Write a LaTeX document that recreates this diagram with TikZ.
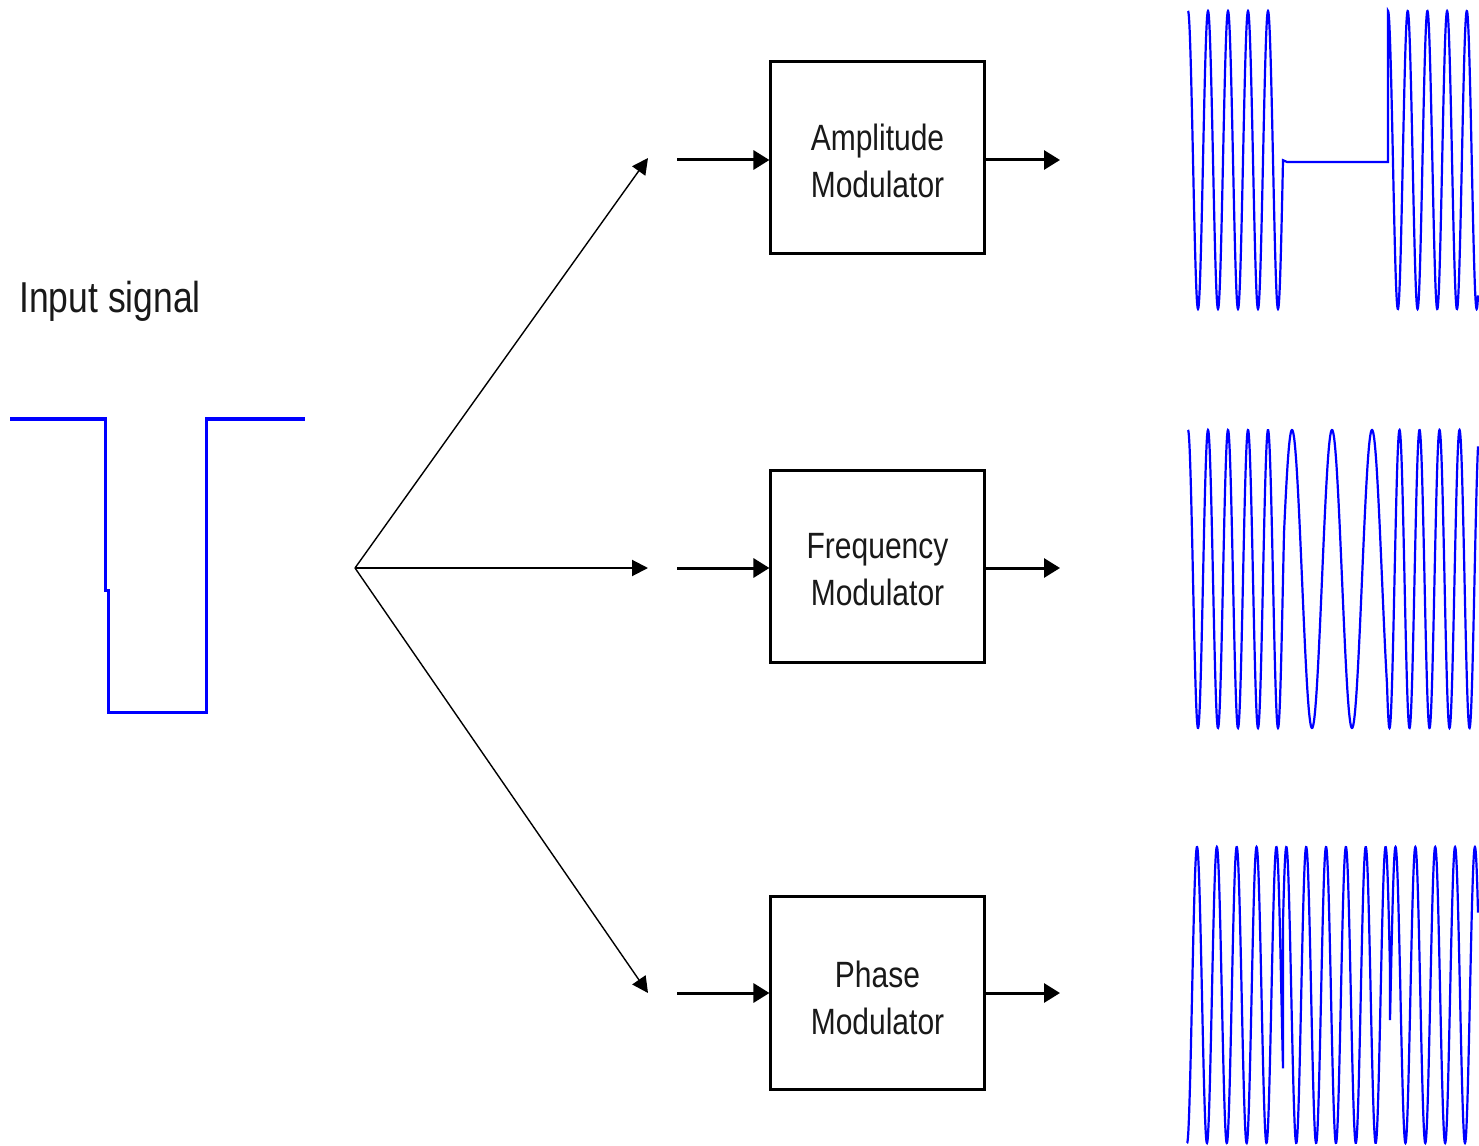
\documentclass[tikz,border=0pt]{standalone}
\usepackage{fontspec}
\setmainfont{Liberation Sans}
\newfontfamily\lblfont[FakeStretch=0.82]{Liberation Sans}
\usetikzlibrary{arrows.meta}
\tikzset{
  wave/.style={blue, line width=0.022cm, line join=miter},
  sig/.style={blue, line width=0.03cm},
  modbox/.style={draw, line width=0.03cm, minimum width=2.13cm, minimum height=1.92cm,
    inner sep=0pt},
  boxtext/.style={align=center, text=black!90, inner sep=0pt,
    font=\lblfont\fontsize{10.4}{13.4}\selectfont},
  feed/.style={line width=0.03cm, -{Triangle[length=0.16cm,width=0.19cm]}},
  fan/.style={line width=0.014cm, -{Triangle[length=0.16cm,width=0.16cm]}},
}
\begin{document}
\begin{tikzpicture}[x=0.01cm, y=-0.01cm]
  \useasboundingbox[fill=white] (0,0) rectangle (1479,1146);

  % title of the input waveform
  \node[text=black!90, font=\lblfont\fontsize{12.3}{14}\selectfont] (title) at (110,301) {Input signal};

  % input pulse
  \draw[sig] (10,419) -- (105,419) -- (105,590) -- (108,590) -- (108,712)
    -- (206,712) -- (206,419) -- (305,419);

  % splitting point and the three fan arrows
  \coordinate (split) at (355,568);
  \coordinate (tipA) at (648,158);
  \coordinate (tipF) at (648,568);
  \coordinate (tipP) at (648,993);
  \draw[fan] (split) -- (tipA);
  \draw[fan, line width=0.02cm] (split) -- (tipF);
  \draw[fan] (split) -- (tipP);

  % modulator blocks and their captions
  \node[modbox] (AM) at (877.5,157.5) {};
  \node[modbox] (FM) at (877.5,566.5) {};
  \node[modbox] (PM) at (877.5,993) {};
  \node[boxtext] (AMt) at ([yshift=-0.035cm]AM.center) {Amplitude\\Modulator};
  \node[boxtext] (FMt) at ([yshift=-0.035cm]FM.center) {Frequency\\Modulator};
  \node[boxtext] (PMt) at ([yshift=-0.045cm]PM.center) {Phase\\Modulator};

  % feeds into and out of the blocks
  \coordinate (aIn) at (677,160);  \coordinate (aOut) at (1060,160);
  \coordinate (fIn) at (677,568);  \coordinate (fOut) at (1060,568);
  \coordinate (pIn) at (677,993);  \coordinate (pOut) at (1060,993);
  \draw[feed] (aIn) -- (aIn -| AM.west);
  \draw[feed] (AM.east |- aOut) -- (aOut);
  \draw[feed] (fIn) -- (fIn -| FM.west);
  \draw[feed] (FM.east |- fOut) -- (fOut);
  \draw[feed] (pIn) -- (pIn -| PM.west);
  \draw[feed] (PM.east |- pOut) -- (pOut);

  % amplitude-modulated carrier (period 20, silent while the input is low)
  \draw[wave] plot[domain=1188:1283, samples=400] (\x,{160-149*cos(18*(\x-1188))})
    -- (1287,162) -- (1388,162)
    -- plot[domain=1388:1478, samples=400] (\x,{160-149*cos(18.274*(\x-1388))});

  % frequency-modulated carrier (period 20, then 40, then 20)
  \draw[wave] plot[domain=1188:1284, samples=400] (\x,{579-149*cos(18*(\x-1188))})
    -- plot[domain=1284:1387, samples=300] (\x,{579-149*cos(360*(4.8+(\x-1284)/40))})
    -- plot[domain=1387:1478, samples=400] (\x,{579-149*cos(360*(7.375+(\x-1387)/20))});

  % phase-modulated carrier (inverted while the input is low)
  \draw[wave] plot[domain=1187:1283, samples=400] (\x,{995-148*cos(18.136*(\x-1197))})
    -- plot[domain=1283:1390, samples=400] (\x,{995+148*cos(18.136*(\x-1197))})
    -- plot[domain=1390:1478, samples=400] (\x,{995-148*cos(18.136*(\x-1197))});
\end{tikzpicture}
\end{document}
